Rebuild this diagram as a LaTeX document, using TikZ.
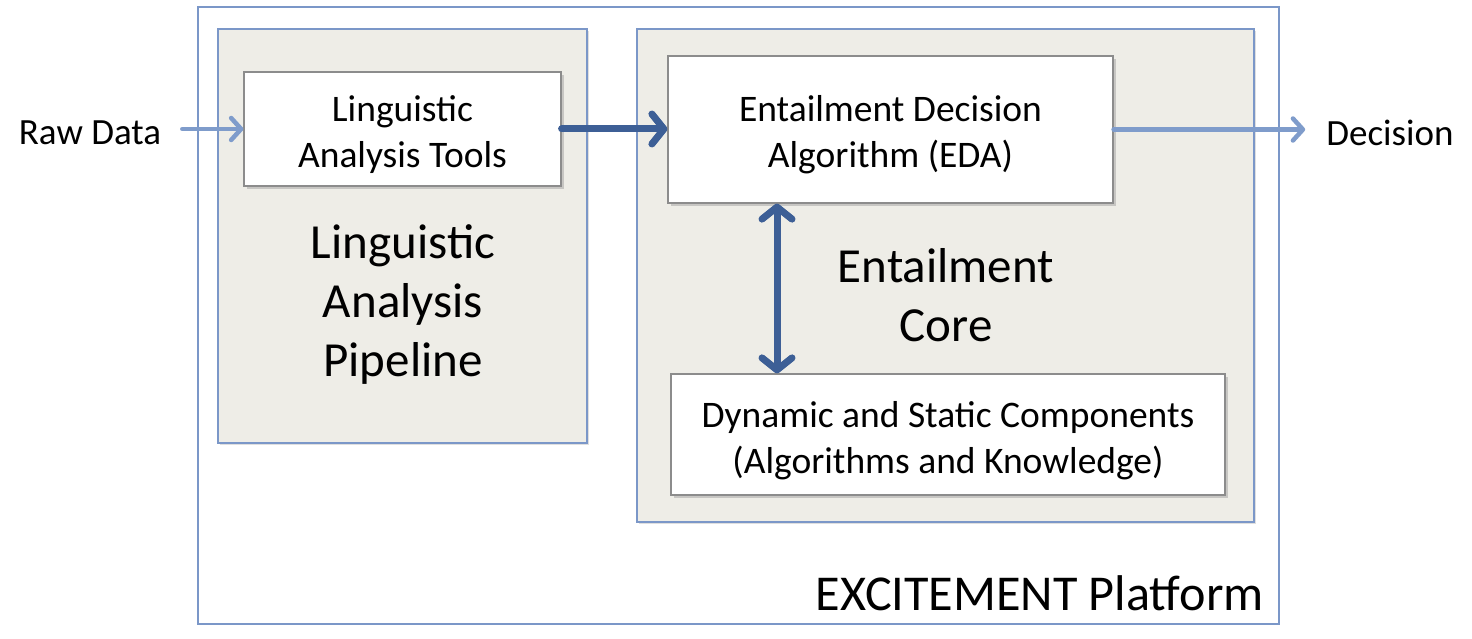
\documentclass[tikz,border=0pt]{standalone}
\usepackage{fontspec}
\setmainfont{Carlito}
\usetikzlibrary{arrows.meta,shadows,positioning,calc}
\definecolor{frameblue}{HTML}{7B97C8}
\definecolor{lightarrow}{HTML}{7F9CCB}
\definecolor{darkarrow}{HTML}{3D5F96}
\definecolor{panelgray}{HTML}{EEEDE7}
\definecolor{boxborder}{HTML}{8C8C8C}
\tikzset{
  framebox/.style={draw=frameblue, line width=1.6pt, fill=white},
  panel/.style={draw=frameblue, line width=1.6pt, fill=panelgray,
    drop shadow={opacity=0.25, shadow xshift=2pt, shadow yshift=-2pt}},
  whitebox/.style={draw=boxborder, line width=1.2pt, fill=white, inner sep=0pt,
    drop shadow={opacity=0.35, shadow xshift=2.5pt, shadow yshift=-3pt}},
  boxtext/.style={align=center, inner sep=0pt, font=\fontsize{37.5}{46}\selectfont},
  bigtext/.style={align=center, inner sep=0pt, font=\fontsize{49}{59}\selectfont},
  smalltext/.style={inner sep=0pt, font=\fontsize{37}{46}\selectfont},
  lightarr/.style={draw=lightarrow, line width=4.5pt, line cap=round,
    -{Straight Barb[length=10pt, width=22pt, line width=4.5pt, round]}},
  darkarr/.style={draw=darkarrow, line width=7pt, line cap=round,
    -{Straight Barb[length=12pt, width=30pt, line width=7pt, round]}},
  darkdbl/.style={draw=darkarrow, line width=7pt, line cap=round,
    {Straight Barb[length=12pt, width=30pt, line width=7pt, round]}-{Straight Barb[length=12pt, width=30pt, line width=7pt, round]}}
}
\begin{document}
\begin{tikzpicture}[x=1pt, y=-1pt]
\useasboundingbox (0,0) rectangle (1472,639);
\fill[white] (0,0) rectangle (1472,639);
% outer platform frame
\draw[framebox] (198,7) rectangle (1279,624);
% panels
\draw[panel] (218,29) rectangle (587,443);
\draw[panel] (637,29) rectangle (1254,522);
% white boxes
\node[whitebox, minimum width=317pt, minimum height=114pt] (lat) at (402.5,129) {};
\node[boxtext] (latt) at ([yshift=-6pt]lat.center) {Linguistic\\Analysis Tools};
\node[whitebox, minimum width=445pt, minimum height=147pt] (eda) at (890.5,129.5) {};
\node[boxtext] (edat) at ([yshift=-5pt]eda.center) {Entailment Decision\\Algorithm (EDA)};
\node[whitebox, minimum width=554pt, minimum height=121pt] (dsc) at (948,434.5) {};
\node[boxtext] (dsct) at ([yshift=-6pt]dsc.center) {Dynamic and Static Components\\(Algorithms and Knowledge)};
% big labels
\node[bigtext] (lap) at (403,305) {Linguistic\\Analysis\\Pipeline};
\node[bigtext] (ec) at (946,295) {Entailment\\Core};
\node[bigtext, anchor=east, font=\fontsize{50.2}{59}\selectfont] (plat) at (1264,593) {EXCITEMENT Platform};
% outside labels
\node[smalltext] (raw) at (90,133) {Raw Data};
\node[smalltext] (dec) at (1390,133) {Decision};
% connectors
\coordinate (rawstart) at ([xshift=21pt]raw.east |- lat.west);
\draw[lightarr] (rawstart) -- (lat.west);
\draw[darkarr] (lat.east) -- (eda.west |- lat.east);
\coordinate (decend) at ([xshift=-21pt]dec.west |- eda.east);
\draw[lightarr] (eda.east) -- (decend);
\coordinate (dtop) at (777,0);
\draw[darkdbl] (eda.south -| dtop) -- (dsc.north -| dtop);
\end{tikzpicture}
\end{document}
